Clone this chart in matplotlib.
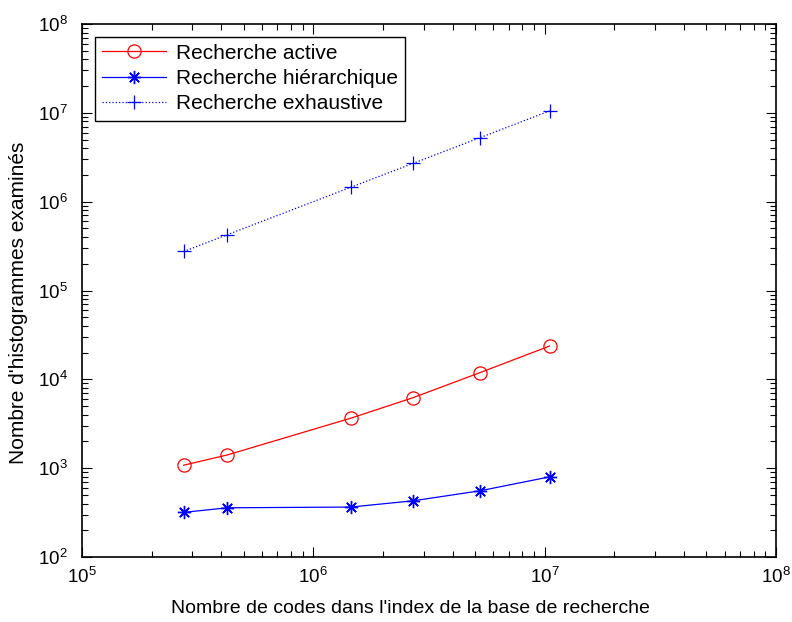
# -*- coding: utf-8 -*-

import math

import matplotlib
matplotlib.use("Agg")
import matplotlib.pyplot as plt
from matplotlib.ticker import LogLocator, FuncFormatter, NullFormatter

# taille de la base (nombre de codes dans l'index)
nb_codes = [275000, 425000, 1450000, 2700000, 5250000, 10500000]

# nombre d'histogrammes examines
active = [1080, 1410, 3650, 6220, 11900, 23700]
hierarchique = [318, 358, 365, 429, 556, 798]
exhaustive = [275000, 425000, 1450000, 2700000, 5250000, 10500000]

plt.rcParams['font.family'] = ['Liberation Sans', 'DejaVu Sans']
plt.rcParams['mathtext.fontset'] = 'custom'
plt.rcParams['mathtext.rm'] = 'Liberation Sans'
plt.rcParams['mathtext.it'] = 'Liberation Sans'


def puissance_dix(val, pos):
    exp = int(round(math.log10(val)))
    return r'$\mathregular{10^{%d}}$' % exp


fig = plt.figure(figsize=(7.92, 6.22), dpi=100)
# axes: x 82 -> 776 px, y 24 -> 557 px
ax = fig.add_axes([82 / 792, 65 / 622, 694 / 792, 533 / 622])

ax.loglog(nb_codes, active, '-o', color='#ff0000', lw=0.9,
          markersize=9.5, markerfacecolor='none', markeredgewidth=0.9,
          label='Recherche active')
ax.loglog(nb_codes, hierarchique, '-', marker=(8, 2, 0), color='#0000ff', lw=0.9,
          markersize=9.5, markeredgewidth=1.0,
          label='Recherche hiérarchique')
ax.loglog(nb_codes, exhaustive, ':+', color='#0000ff', lw=0.9,
          markersize=10, markeredgewidth=0.9,
          label='Recherche exhaustive')

ax.set_xlim(1e5, 1e8)
ax.set_ylim(1e2, 1e8)

ax.xaxis.set_major_locator(LogLocator(base=10, numticks=10))
ax.yaxis.set_major_locator(LogLocator(base=10, numticks=10))
ax.xaxis.set_minor_locator(LogLocator(base=10, subs=range(2, 10), numticks=20))
ax.yaxis.set_minor_locator(LogLocator(base=10, subs=range(2, 10), numticks=20))
ax.xaxis.set_major_formatter(FuncFormatter(puissance_dix))
ax.yaxis.set_major_formatter(FuncFormatter(puissance_dix))
ax.xaxis.set_minor_formatter(NullFormatter())
ax.yaxis.set_minor_formatter(NullFormatter())

ax.tick_params(which='both', direction='in', top=True, right=True,
               labelsize=13.5, width=0.8)
ax.tick_params(which='major', length=7)
ax.tick_params(axis='x', which='major', pad=7)
ax.tick_params(axis='y', which='major', pad=10)
ax.tick_params(which='minor', length=4)
for s in ax.spines.values():
    s.set_linewidth(1.2)

ax.set_xlabel("Nombre de codes dans l'index de la base de recherche", fontsize=14)
ax.set_ylabel("Nombre d'histogrammes examinés", fontsize=15)
ax.xaxis.set_label_coords(0.4726, -0.08)
ax.yaxis.set_label_coords(-0.078, 0.4765)

leg = ax.legend(loc='upper left', fontsize=15, handlelength=3.1, handletextpad=0.45,
                fancybox=False, framealpha=1, edgecolor='black',
                borderaxespad=0.6, labelspacing=0.3, borderpad=0.35)
leg.get_frame().set_linewidth(1.0)

fig.savefig('out.png', dpi=100)
